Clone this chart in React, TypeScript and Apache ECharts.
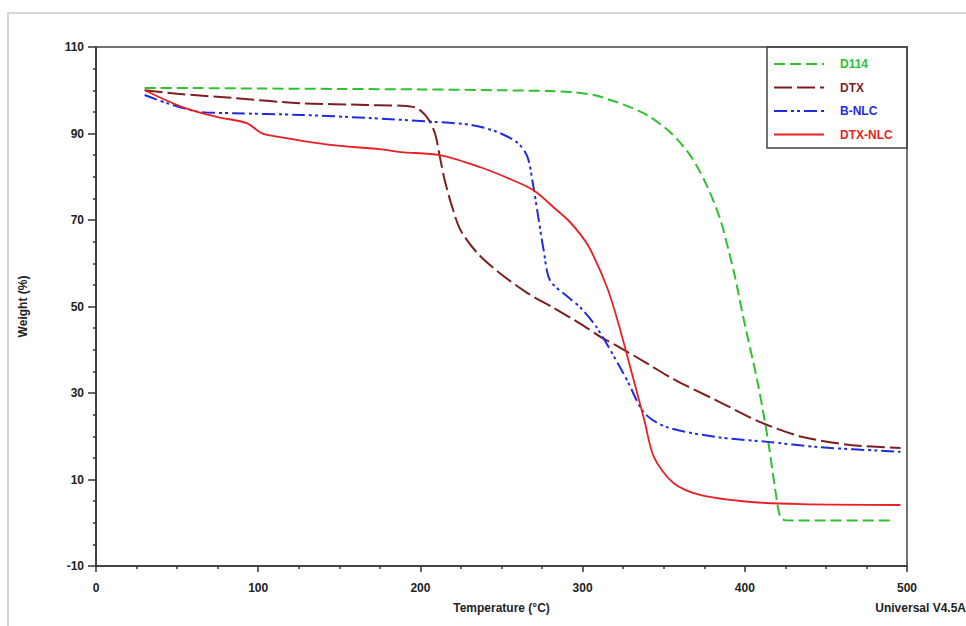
import React, { useEffect, useRef } from "react";
import * as echarts from "echarts";

const seriesNames = ["D114", "DTX", "B-NLC", "DTX-NLC"];
const seriesColors = ["#2fc22f", "#7d1f1f", "#1f2be0", "#ea1f25"];

// [temperature °C, weight %]
const d114Data = [
  [30, 100.5], [60, 100.5], [100, 100.4], [150, 100.3], [200, 100.2], [250, 100],
  [280, 99.8], [295, 99.5], [308, 98.8], [319, 97.5], [330, 96], [340, 94.2],
  [354, 90.3], [367, 84.6], [377, 77.6], [385, 70], [390, 63], [394, 56.8],
  [399, 47.6], [408, 32.3], [414, 19.8], [420, 4.6], [422, 1.3], [425, 0.6],
  [450, 0.5], [492, 0.5],
];
const dtxData = [
  [30, 100], [50, 99.2], [85, 98.2], [126, 97], [167, 96.6], [196, 96.1],
  [204, 93.8], [209, 90], [212, 84.6], [215, 79.2], [219.6, 73], [224.7, 67.7],
  [235, 62.4], [249, 57.7], [266, 53.1], [282, 49.7], [300, 45.7], [311, 43],
  [323.5, 40.4], [340, 36.8], [356, 33.2], [383, 28.2], [410, 23.2], [435, 19.9],
  [465, 18], [496, 17.3],
];
const bnlcData = [
  [30, 98.9], [44, 97], [64, 95], [85, 94.7], [126, 94.3], [167, 93.6],
  [208, 92.7], [231, 92], [247, 90.4], [260, 87.8], [266, 84.6], [269, 79.2],
  [272, 72.3], [276, 63], [280, 56], [291, 52.2], [299, 49.6], [309, 45], [323, 36],
  [328, 32.5], [338, 25.4], [352, 22.1], [383, 19.8], [414, 18.7], [445, 17.5],
  [496, 16.4],
];
const dtxNlcData = [
  [30, 100], [54, 96], [75, 93.8], [93, 92.4], [101, 90.3], [105.5, 89.7],
  [146, 87.3], [175, 86.4], [188, 85.7], [212, 85], [237, 82.2], [257, 79.2],
  [270, 76.8], [284, 72.3], [291, 70], [299, 66.5], [305, 63], [315, 54.5],
  [322, 46.2], [331.5, 33], [338, 23.8], [344, 15.2], [356, 9.2], [373, 6.4],
  [404, 4.8], [435, 4.3], [496, 4.1],
];
const allData = [d114Data, dtxData, bnlcData, dtxNlcData];

const xTitle = "Temperature (°C)";
const yTitle = "Weight (%)";
const footer = "Universal V4.5A";

const FONT = "'Liberation Sans', Arial, sans-serif";

export default function App() {
  const ref = useRef<HTMLDivElement>(null);

  useEffect(() => {
    if (!ref.current) return;
    const chart = echarts.init(ref.current, undefined, { renderer: "svg" });
    const dashTypes: any[] = [[11, 5], [18, 5], [13, 4, 3, 3, 3, 4], "solid"];
    const widths = [2, 2, 2, 1.8];

    chart.setOption({
      animation: false,
      backgroundColor: "#ffffff",
      textStyle: { fontFamily: FONT },
      grid: {
        left: 96,
        top: 47,
        right: 59,
        bottom: 60,
        show: true,
        borderColor: "#444",
        borderWidth: 1.5,
        containLabel: false,
      },
      legend: {
        orient: "vertical",
        left: 773,
        top: 58,
        itemWidth: 50,
        itemHeight: 10,
        itemGap: 11.5,
        padding: 0,
        itemStyle: { opacity: 0 },
        data: seriesNames.map((n, i) => ({
          name: n,
          textStyle: {
            color: seriesColors[i],
            fontWeight: "bold",
            fontSize: 12,
            fontFamily: FONT,
            padding: [0, 0, 0, 11],
          },
        })),
      },
      xAxis: {
        type: "value",
        min: 0,
        max: 500,
        interval: 100,
        name: xTitle,
        nameLocation: "middle",
        nameGap: 36,
        nameTextStyle: { color: "#222", fontWeight: "bold", fontSize: 12 },
        axisLine: { show: true, onZero: false, lineStyle: { color: "#333", width: 1.5 } },
        axisTick: { show: true, inside: false, length: 6, lineStyle: { color: "#333", width: 1.5 } },
        minorTick: { show: true, splitNumber: 4, length: 3, lineStyle: { color: "#333", width: 1.5 } },
        axisLabel: { color: "#222", fontWeight: "bold", fontSize: 12, margin: 16 },
        splitLine: { show: false },
      },
      yAxis: {
        type: "value",
        min: -10,
        max: 110,
        interval: 20,
        name: yTitle,
        nameLocation: "middle",
        nameGap: 67,
        nameRotate: 90,
        nameTextStyle: { color: "#222", fontWeight: "bold", fontSize: 12 },
        axisLine: { show: true, onZero: false, lineStyle: { color: "#333", width: 1.5 } },
        axisTick: { show: true, inside: false, length: 8, lineStyle: { color: "#333", width: 1.5 } },
        minorTick: { show: true, splitNumber: 4, length: 3, lineStyle: { color: "#333", width: 1.5 } },
        axisLabel: { color: "#222", fontWeight: "bold", fontSize: 12, margin: 12 },
        splitLine: { show: false },
      },
      series: seriesNames.map((n, i) => ({
        name: n,
        type: "line",
        data: allData[i],
        symbol: "none",
        showSymbol: false,
        smooth: 0.3,
        lineStyle: { color: seriesColors[i], width: widths[i], type: dashTypes[i] },
        itemStyle: { color: seriesColors[i] },
        z: 2 + i,
      })),
      graphic: [
        {
          type: "rect",
          shape: { x: 8, y: 13, width: 1000, height: 700 },
          style: { fill: "none", stroke: "#d6d6d6", lineWidth: 2 },
          silent: true,
        },
        {
          type: "rect",
          shape: { x: 767, y: 47, width: 140, height: 101 },
          style: { fill: "none", stroke: "#444", lineWidth: 1.5 },
          silent: true,
        },
        {
          type: "text",
          x: 966,
          y: 608,
          style: {
            text: footer,
            fill: "#222",
            font: `bold 12px ${FONT}`,
            textAlign: "right",
            textVerticalAlign: "middle",
          },
          silent: true,
        },
      ],
    });

    return () => chart.dispose();
  }, []);

  return (
    <div
      ref={ref}
      style={{ position: "fixed", left: 0, top: 0, width: 966, height: 626, background: "#fff" }}
    />
  );
}
